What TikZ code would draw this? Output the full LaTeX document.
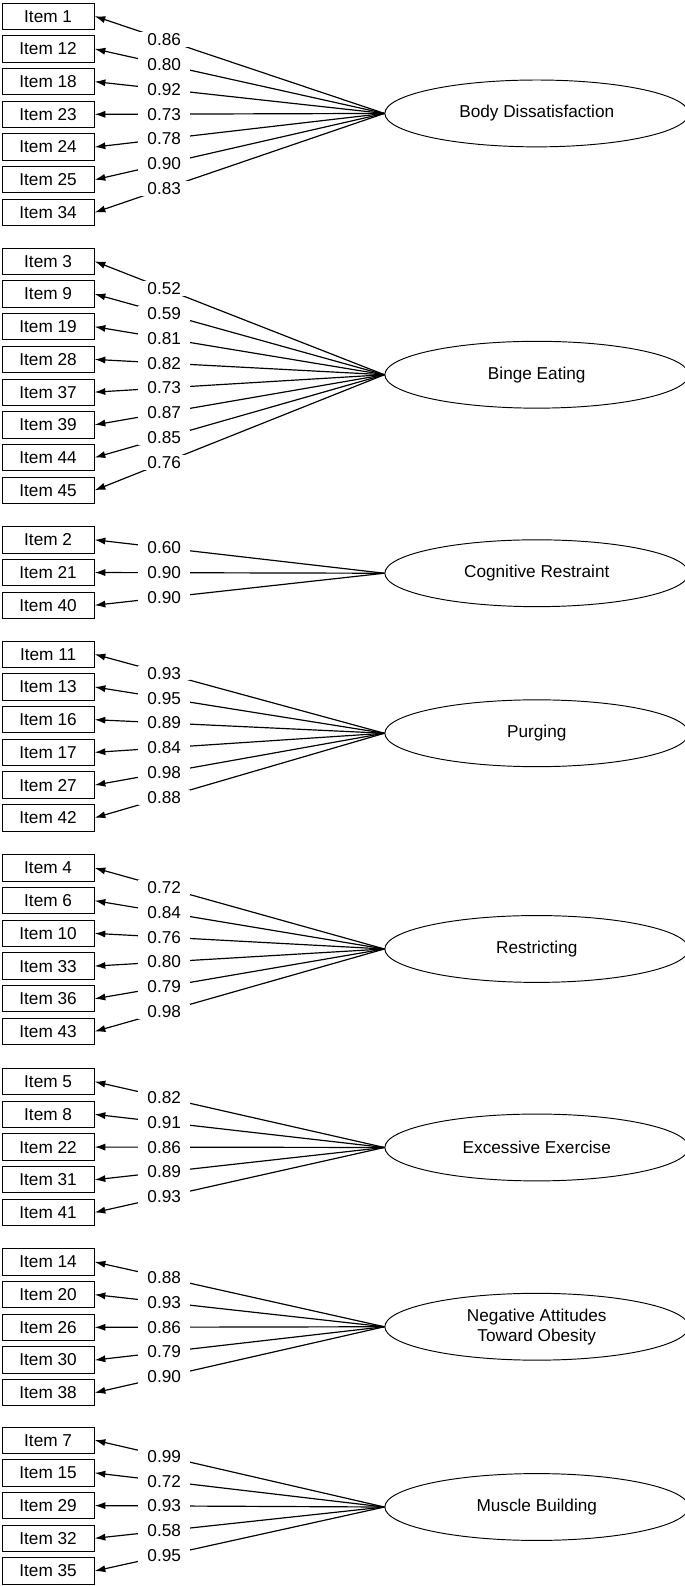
\documentclass[tikz,border=0pt]{standalone}
\usepackage{fontspec}
\setmainfont{Liberation Sans}
\usetikzlibrary{arrows.meta}

\tikzstyle{item} = [rectangle, draw, thick, minimum width=91*0.03cm, minimum height=26*0.03cm, inner sep=0pt, font=\fontsize{14.5}{16}\selectfont]
\tikzstyle{factor} = [ellipse, draw, thick, minimum width=300*0.03cm, minimum height=66*0.03cm, align=center, font=\fontsize{14.5}{17}\selectfont]
\tikzstyle{link} = [draw, line width=1pt, -{Latex[length=9pt,width=6pt]}]
\tikzstyle{loading} = [fill=white, inner xsep=8pt, inner ysep=1pt, font=\fontsize{14.5}{16}\selectfont]

\usetikzlibrary{shapes.geometric}

% one factor with its items
\newcommand{\itemgroup}[5]{%
    \node[factor] (#1) at (530,#3) {#2};
    \foreach \num/\load [count=\i from 0] in {#5} {
        \node[item] (#1-\i) at (47.5,{#4+32.3*\i}) {Item \num};
        \draw[link] (#1.west) -- node[pos=0.76, loading] {\load} (#1-\i.east);
    }
}

\begin{document}
\begin{tikzpicture}[x=0.03cm, y=-0.03cm]
    \useasboundingbox (0,0) rectangle (676,1566);

    \itemgroup{body}{Body Dissatisfaction}{112}{16}{1/0.86, 12/0.80, 18/0.92, 23/0.73, 24/0.78, 25/0.90, 34/0.83}
    \itemgroup{binge}{Binge Eating}{370}{258}{3/0.52, 9/0.59, 19/0.81, 28/0.82, 37/0.73, 39/0.87, 44/0.85, 45/0.76}
    \itemgroup{cogn}{Cognitive Restraint}{566}{533}{2/0.60, 21/0.90, 40/0.90}
    \itemgroup{purg}{Purging}{724}{646}{11/0.93, 13/0.95, 16/0.89, 17/0.84, 27/0.98, 42/0.88}
    \itemgroup{restr}{Restricting}{937}{857}{4/0.72, 6/0.84, 10/0.76, 33/0.80, 36/0.79, 43/0.98}
    \itemgroup{exerc}{Excessive Exercise}{1133}{1068}{5/0.82, 8/0.91, 22/0.86, 31/0.89, 41/0.93}
    \itemgroup{obes}{Negative Attitudes\\Toward Obesity}{1310}{1246}{14/0.88, 20/0.93, 26/0.86, 30/0.79, 38/0.90}
    \itemgroup{muscle}{Muscle Building}{1488}{1422}{7/0.99, 15/0.72, 29/0.93, 32/0.58, 35/0.95}
\end{tikzpicture}
\end{document}
